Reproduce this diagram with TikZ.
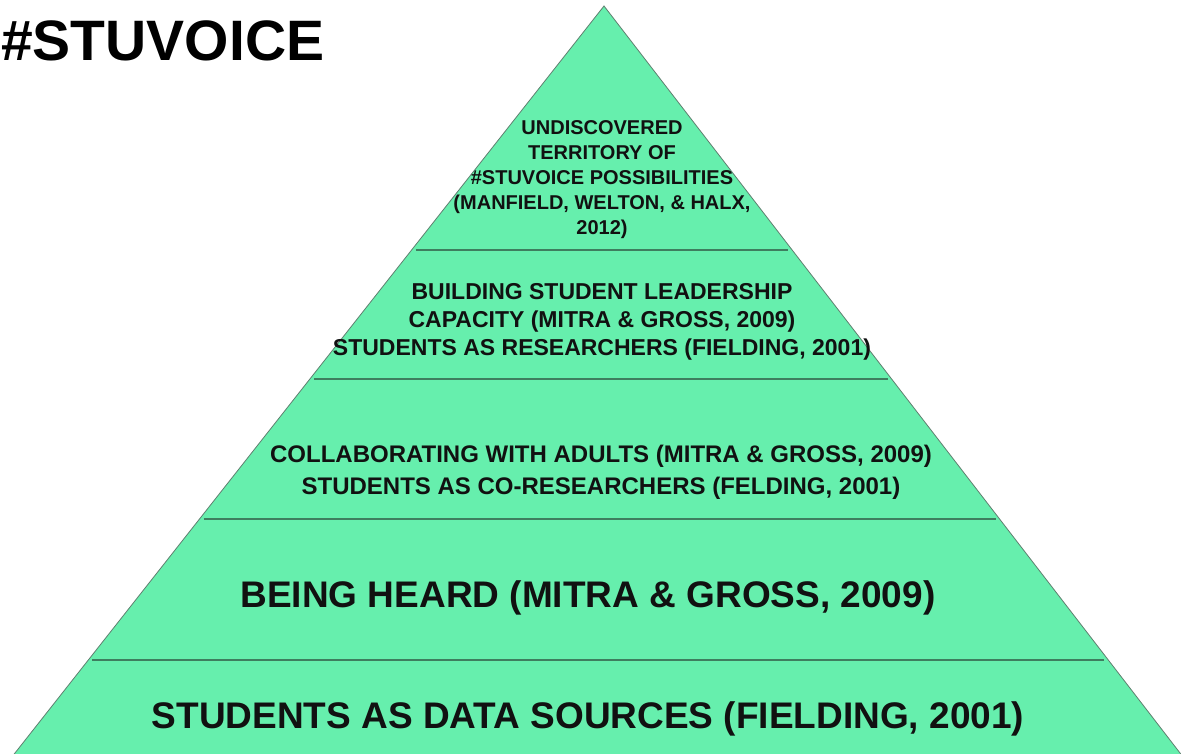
\documentclass[tikz,border=0pt]{standalone}
\usepackage{fontspec}
\setmainfont{Liberation Sans}
\usepackage{tikz}
\usetikzlibrary{calc}
\usepackage{xcolor}
\definecolor{Mint}{HTML}{66EFAD}
\definecolor{Rule}{HTML}{3E7E5F}
\definecolor{Edge}{HTML}{5F7F6F}
\definecolor{Ink}{HTML}{111111}
\tikzset{
  tier/.style={align=center, text=Ink, inner sep=0pt},
  divider/.style={draw=Rule, line width=1.2pt},
  heading/.style={anchor=west, inner sep=0pt, text=black, font=\fontsize{57}{60}\selectfont\bfseries}
}

\begin{document}
\begin{tikzpicture}[x=1pt,y=1pt]
\clip (0,0) rectangle (1181,753);
\coordinate (apex) at (604,747);
\coordinate (bl) at (15,0);
\coordinate (br) at (1180,0);
\draw[fill=Mint, draw=Edge, line width=0.8pt] (apex) -- ($(apex)!1.05!(bl)$) -- ($(apex)!1.05!(br)$) -- cycle;
\foreach \t in {0.3266,0.4993,0.6867,0.8755}
  \draw[divider] ($(apex)!\t!(bl)+(4,0)$) -- ($(apex)!\t!(br)-(4,0)$);
\node[heading] (title) at (1,712) {\#STUVOICE};
\node[tier, font=\fontsize{20}{25}\selectfont\bfseries] (territory) at (602,573) {UNDISCOVERED\\TERRITORY OF\\\#STUVOICE POSSIBILITIES\\(MANFIELD, WELTON, \& HALX,\\2012)};
\node[tier, font=\fontsize{23}{28}\selectfont\bfseries] (leadership) at (602,431) {BUILDING STUDENT LEADERSHIP\\CAPACITY (MITRA \& GROSS, 2009)\\STUDENTS AS RESEARCHERS (FIELDING, 2001)};
\node[tier, font=\fontsize{24}{32}\selectfont\bfseries] (collab) at (601,281) {COLLABORATING WITH ADULTS (MITRA \& GROSS, 2009)\\STUDENTS AS CO-RESEARCHERS (FELDING, 2001)};
\node[tier, font=\fontsize{37}{40}\selectfont\bfseries] (heard) at (588,155) {BEING HEARD (MITRA \& GROSS, 2009)};
\node[tier, font=\fontsize{37}{40}\selectfont\bfseries] (sources) at (588,34) {STUDENTS AS DATA SOURCES (FIELDING, 2001)};
\end{tikzpicture}
\end{document}
